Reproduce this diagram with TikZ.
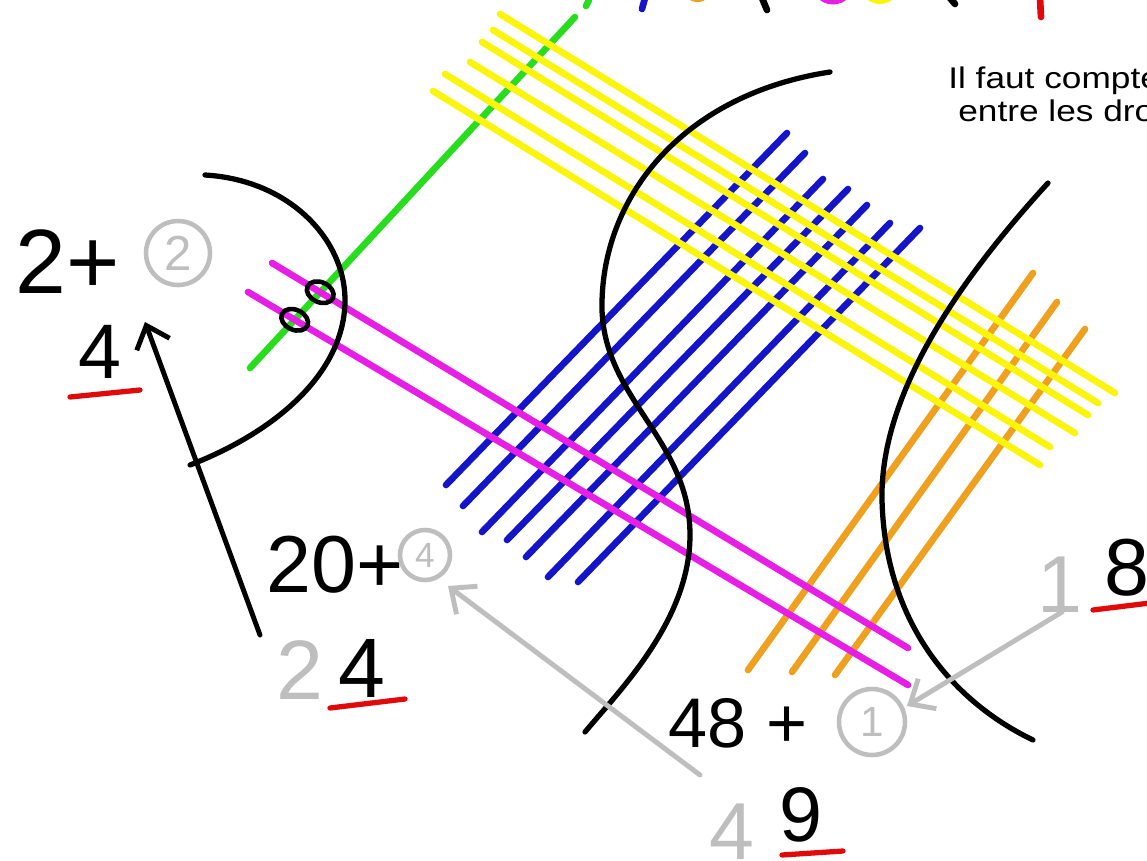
\documentclass[tikz,border=0pt]{standalone}
\usepackage{fontspec}
\setmainfont{Liberation Sans}
\usetikzlibrary{arrows.meta,positioning}

\definecolor{vert}{RGB}{40,220,30}
\definecolor{bleu}{RGB}{20,20,200}
\definecolor{orange}{RGB}{238,160,30}
\definecolor{jaune}{RGB}{250,245,10}
\definecolor{magenta}{RGB}{230,30,230}
\definecolor{gris}{RGB}{190,190,190}
\definecolor{rouge}{RGB}{225,10,10}

\tikzset{
  trait/.style={line width=3.8pt, line cap=round},
  courbe/.style={line width=3pt, black, line cap=round},
  chiffre/.style={font=\fontsize{46}{46}\selectfont, inner sep=0pt},
  retenue/.style={chiffre, text=gris},
  cercle/.style={circle, draw=gris, line width=2.6pt, text=gris, inner sep=0pt},
  souligne/.style={rouge, line width=3pt, line cap=round},
  fleche/.style={line width=2.8pt, line cap=round, -{Straight Barb[length=4mm,width=7mm,line width=2.8pt]}},
  note/.style={font=\fontsize{17}{17}\selectfont, inner sep=0pt},
}

\begin{document}
\begin{tikzpicture}[x=0.02cm, y=-0.02cm]
  \useasboundingbox (0,0) rectangle (1147,860);

  % bouts du titre (coupé en haut)
  \draw[trait, vert] (589,0) -- (586,6);
  \draw[trait, bleu] (645,-2) -- (642,9);
  \draw[trait, orange] (690,-4) to[bend right=40] (705,-4);
  \draw[trait, black] (762,-2) -- (767,10);
  \draw[trait, magenta] (819,-6) to[bend right=60] (847,-6);
  \draw[trait, jaune] (867,-6) to[bend right=60] (893,-6);
  \draw[trait, black] (950,-2) -- (955,4);
  \draw[trait, rouge] (1040,-2) -- (1041,17);

  % droites des unites, dizaines, centaines
  \coordinate (v1) at (250,368);
  \coordinate (v2) at (575,17);
  \draw[trait, vert] (v1) -- (v2);
  \foreach \xa/\ya/\xb/\yb in {446/485/787/133, 463/506/805/153, 482/532/823/179,
      507/540/848/189, 526/557/867/205, 548/577/890/223, 578/582/920/228}
    \draw[trait, bleu] (\xa,\ya) -- (\xb,\yb);
  \foreach \xa/\ya/\xb/\yb in {748/670/1033/273, 792/672/1057/302, 835/675/1085/329}
    \draw[trait, orange] (\xa,\ya) -- (\xb,\yb);

  % droites du second nombre
  \foreach \xa/\ya/\xb/\yb in {500/14/1115/393, 493/30/1098/403, 482/42/1088/415,
      470/62/1075/433, 445/74/1050/447, 433/91/1040/465}
    \draw[trait, jaune] (\xa,\ya) -- (\xb,\yb);
  \coordinate (m1a) at (272,263);
  \coordinate (m1b) at (908,648);
  \coordinate (m2a) at (248,292);
  \coordinate (m2b) at (908,685);
  \draw[trait, magenta] (m1a) -- (m1b);
  \draw[trait, magenta] (m2a) -- (m2b);

  % zones
  \draw[courbe] (205,175) .. controls (290,180) and (345,240) .. (345,300)
    .. controls (345,370) and (280,430) .. (190,465);
  \draw[courbe] (830,72) .. controls (680,95) and (600,200) .. (602,310)
    .. controls (605,400) and (690,440) .. (690,535)
    .. controls (690,620) and (620,690) .. (585,732);
  \draw[courbe] (1048,183) .. controls (950,290) and (880,400) .. (882,500)
    .. controls (885,620) and (950,700) .. (1033,740);

  \draw[line width=2.6pt] (intersection of v1--v2 and m1a--m1b)
    ellipse [x radius=14, y radius=10, rotate=-25];
  \draw[line width=2.6pt] (intersection of v1--v2 and m2a--m2b)
    ellipse [x radius=14, y radius=10, rotate=-25];

  % resultats
  \node[chiffre, font=\fontsize{52}{52}\selectfont] (deuxplus) at (68,262) {2+};
  \node[cercle, minimum size=1.28cm, font=\fontsize{28}{28}\selectfont] (c2) at (178,253) {2};
  \node[chiffre, font=\fontsize{44}{44}\selectfont] (res1) at (100,352) {4};
  \draw[souligne] (70,397) -- (140,390);

  \node[chiffre] (vingt) at (335,565) {20+};
  \node[cercle, minimum size=1.0cm, font=\fontsize{20}{20}\selectfont] (c4) at (425,555) {4};
  \node[retenue, font=\fontsize{48}{48}\selectfont] (ret2) at (300,670) {2};
  \node[chiffre, font=\fontsize{48}{48}\selectfont] (res2) at (362,668) {4};
  \draw[souligne] (330,708) -- (405,699);

  \node[chiffre, font=\fontsize{40}{40}\selectfont] (quarante) at (738,723) {48 +};
  \node[cercle, minimum size=1.32cm, font=\fontsize{24}{24}\selectfont] (c1) at (872,722) {1};
  \node[retenue] (ret4) at (732,832) {4};
  \node[chiffre, font=\fontsize{44}{44}\selectfont] (res3) at (801,815) {9};
  \draw[souligne] (782,855) -- (843,851);

  \node[retenue] (ret1) at (1060,585) {1};
  \node[chiffre] (res4) at (1127,568) {8};
  \draw[souligne] (1093,610) -- (1150,603);

  % retenues
  \coordinate (q1) at (260,635);
  \coordinate (p1) at (145,322);
  \draw[fleche, black] (q1) -- (p1);
  \coordinate (q2) at (700,775);
  \coordinate (p2) at (448,586);
  \draw[fleche, gris] (q2) -- (p2);
  \coordinate (q3) at (1062,612);
  \coordinate (p3) at (907,706);
  \draw[fleche, gris] (q3) -- (p3);

  \node[note, anchor=base west] (note1) at (948,88) {\scalebox{1.18}[1]{Il faut compter}};
  \node[note, anchor=base west] (note2) at (958,121) {\scalebox{1.18}[1]{entre les droites}};
\end{tikzpicture}
\end{document}
